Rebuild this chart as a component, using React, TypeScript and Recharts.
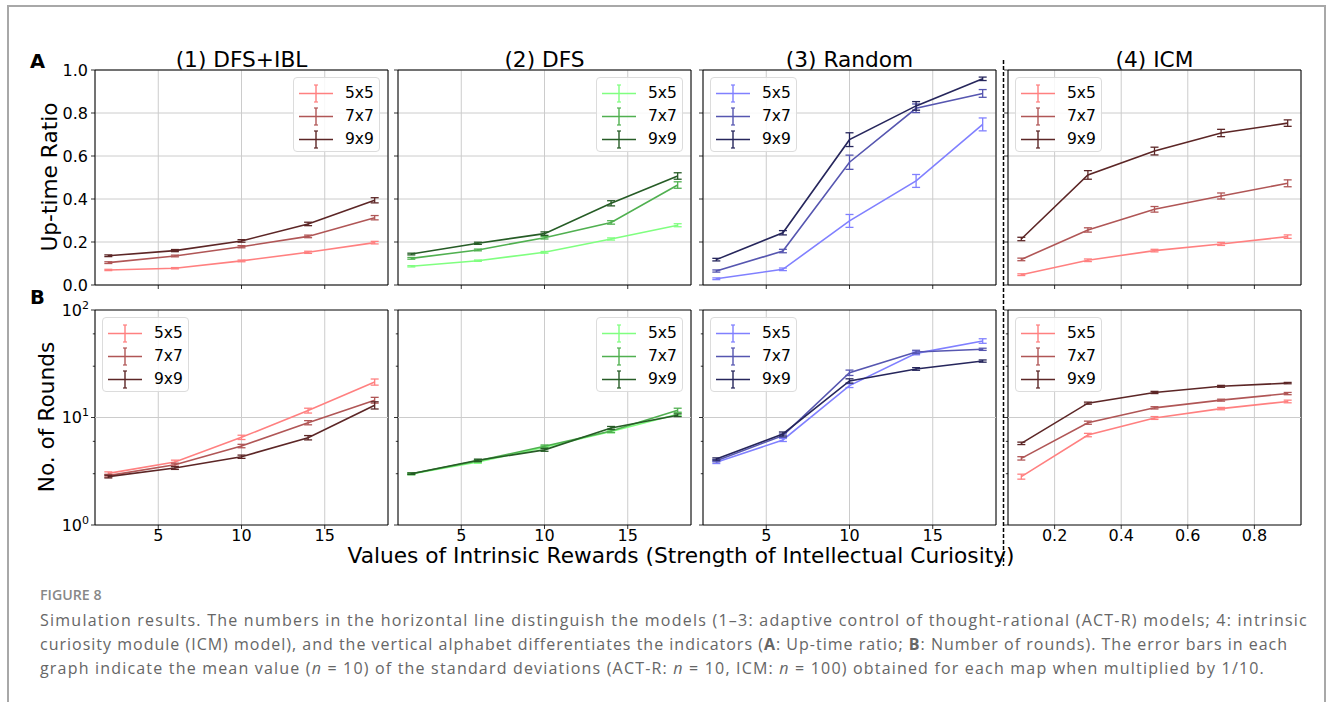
import React, { useLayoutEffect, useRef, useState } from "react";
import { CartesianGrid, ErrorBar, Line, LineChart, ReferenceArea, ReferenceLine, XAxis, YAxis } from "recharts";

// x values
const rewardX = [2, 6, 10, 14, 18];
const icmX = [0.1, 0.3, 0.5, 0.7, 0.9];
const mapSizes = ["5x5", "7x7", "9x9"];

// up-time ratio, one row per map size (5x5, 7x7, 9x9)
const uptimeDfsIbl = [
  [0.07, 0.078, 0.112, 0.152, 0.197],
  [0.104, 0.135, 0.178, 0.226, 0.313],
  [0.136, 0.16, 0.205, 0.284, 0.394],
];
const uptimeDfsIblErr = [
  [0.003, 0.003, 0.004, 0.005, 0.006],
  [0.004, 0.004, 0.005, 0.006, 0.01],
  [0.004, 0.005, 0.006, 0.008, 0.012],
];
const uptimeDfs = [
  [0.087, 0.113, 0.152, 0.214, 0.278],
  [0.124, 0.163, 0.22, 0.291, 0.465],
  [0.144, 0.194, 0.239, 0.38, 0.507],
];
const uptimeDfsErr = [
  [0.003, 0.003, 0.004, 0.005, 0.007],
  [0.004, 0.004, 0.006, 0.008, 0.015],
  [0.004, 0.005, 0.008, 0.012, 0.015],
];
const uptimeRandom = [
  [0.029, 0.073, 0.298, 0.484, 0.747],
  [0.065, 0.158, 0.571, 0.822, 0.891],
  [0.118, 0.243, 0.676, 0.833, 0.959],
];
const uptimeRandomErr = [
  [0.004, 0.006, 0.03, 0.03, 0.03],
  [0.005, 0.008, 0.033, 0.02, 0.018],
  [0.006, 0.01, 0.032, 0.02, 0.008],
];
const uptimeIcm = [
  [0.048, 0.115, 0.16, 0.191, 0.225],
  [0.119, 0.256, 0.352, 0.414, 0.473],
  [0.214, 0.512, 0.623, 0.707, 0.753],
];
const uptimeIcmErr = [
  [0.004, 0.006, 0.006, 0.007, 0.008],
  [0.006, 0.01, 0.013, 0.014, 0.016],
  [0.008, 0.02, 0.018, 0.017, 0.015],
];

// number of rounds (log scale)
const roundsDfsIbl = [
  [3.02, 3.86, 6.54, 11.6, 21.4],
  [2.88, 3.64, 5.43, 8.95, 14.5],
  [2.82, 3.39, 4.32, 6.49, 13.0],
];
const roundsDfsIblErr = [
  [0.1, 0.15, 0.3, 0.6, 1.4],
  [0.08, 0.12, 0.2, 0.4, 0.9],
  [0.08, 0.1, 0.15, 0.3, 1.0],
];
const roundsDfs = [
  [2.98, 3.85, 5.3, 7.4, 10.7],
  [3.0, 3.95, 5.4, 7.5, 11.7],
  [3.0, 4.0, 5.0, 8.0, 10.5],
];
const roundsDfsErr = [
  [0.05, 0.1, 0.15, 0.2, 0.3],
  [0.05, 0.1, 0.15, 0.25, 0.5],
  [0.05, 0.1, 0.15, 0.25, 0.3],
];
const roundsRandom = [
  [3.83, 6.18, 19.8, 39.5, 51.5],
  [3.97, 6.78, 26.1, 40.7, 43.1],
  [4.11, 7.03, 21.9, 28.3, 33.5],
];
const roundsRandomErr = [
  [0.1, 0.2, 0.8, 1.2, 2.5],
  [0.1, 0.25, 1.5, 1.5, 1.0],
  [0.1, 0.3, 1.0, 0.8, 0.8],
];
const roundsIcm = [
  [2.82, 6.87, 9.9, 12.1, 14.1],
  [4.17, 8.95, 12.3, 14.5, 16.7],
  [5.75, 13.6, 17.1, 19.5, 20.9],
];
const roundsIcmErr = [
  [0.15, 0.25, 0.3, 0.3, 0.4],
  [0.15, 0.3, 0.3, 0.3, 0.4],
  [0.15, 0.3, 0.4, 0.4, 0.3],
];

const upTicks = [0, 0.2, 0.4, 0.6, 0.8, 1.0];
const logTicks = [1, 2, 3, 4, 5, 6, 7, 8, 9, 10, 20, 30, 40, 50, 60, 70, 80, 90, 100];
const rewardTicks = [5, 10, 15];
const icmTicks = [0.2, 0.4, 0.6, 0.8];

const reds = ["#ff8080", "#b05656", "#5c2626"];
const greens = ["#80ff80", "#50b050", "#265c26"];
const blues = ["#8080ff", "#5656b0", "#26265c"];

const FONT = "'DejaVu Sans', sans-serif";
const LABEL_SIZE = 21.7;
const PLOT_LEFT = [95, 398, 703, 1008];
const ROW_TOP = [70, 310];
const PLOT_W = 293;
const PLOT_H = 215;

type PanelDef = {
  title: string;
  x: number[];
  xTicks: number[];
  up: number[][];
  upErr: number[][];
  rounds: number[][];
  roundsErr: number[][];
  colors: string[];
  legendTop: "left" | "right";
  legendBottom: "left" | "right";
};

const panels: PanelDef[] = [
  { title: "(1) DFS+IBL", x: rewardX, xTicks: rewardTicks, up: uptimeDfsIbl, upErr: uptimeDfsIblErr, rounds: roundsDfsIbl, roundsErr: roundsDfsIblErr, colors: reds, legendTop: "right", legendBottom: "left" },
  { title: "(2) DFS", x: rewardX, xTicks: rewardTicks, up: uptimeDfs, upErr: uptimeDfsErr, rounds: roundsDfs, roundsErr: roundsDfsErr, colors: greens, legendTop: "right", legendBottom: "right" },
  { title: "(3) Random", x: rewardX, xTicks: rewardTicks, up: uptimeRandom, upErr: uptimeRandomErr, rounds: roundsRandom, roundsErr: roundsRandomErr, colors: blues, legendTop: "left", legendBottom: "left" },
  { title: "(4) ICM", x: icmX, xTicks: icmTicks, up: uptimeIcm, upErr: uptimeIcmErr, rounds: roundsIcm, roundsErr: roundsIcmErr, colors: reds, legendTop: "left", legendBottom: "left" },
];

function buildRows(x: number[], values: number[][], errs: number[][]) {
  return x.map((xv, i) => {
    const row: Record<string, number> = { x: xv };
    values.forEach((series, s) => {
      row["v" + s] = series[i];
      row["e" + s] = errs[s][i];
    });
    return row;
  });
}

function xDomain(x: number[]): [number, number] {
  const pad = (x[x.length - 1] - x[0]) * 0.05;
  return [x[0] - pad, x[x.length - 1] + pad];
}

function LogTick(props: any) {
  const { x, y, payload, showLabel } = props;
  const exp = Math.log10(payload.value);
  const major = Math.abs(exp - Math.round(exp)) < 1e-6;
  const len = major ? 4 : 2.2;
  return (
    <g>
      <line x1={x - len} x2={x} y1={y} y2={y} stroke="#000" strokeWidth={0.8} />
      {major && showLabel && (
        <text x={x - 6} y={y} dy="0.36em" textAnchor="end" fontSize={16} fontFamily={FONT} fill="#000">
          10
          <tspan dy={-7} fontSize={11}>
            {Math.round(exp)}
          </tspan>
        </text>
      )}
    </g>
  );
}

function LegendBox({ colors, side, plotLeft, plotTop }: { colors: string[]; side: "left" | "right"; plotLeft: number; plotTop: number }) {
  const w = 87;
  const left = side === "left" ? plotLeft + 7 : plotLeft + PLOT_W - 8 - w;
  return (
    <div
      style={{
        position: "absolute",
        left,
        top: plotTop + 7,
        width: w,
        height: 75,
        boxSizing: "border-box",
        border: "1px solid #dcdcdc",
        borderRadius: 4,
        background: "rgba(255,255,255,0.85)",
      }}
    >
      {mapSizes.map((label, i) => (
        <div key={label} style={{ position: "absolute", left: 0, top: 4 + i * 23, height: 23, width: w }}>
          <svg width={40} height={23} style={{ position: "absolute", left: 3, top: 0 }}>
            <line x1={2} x2={36} y1={11.5} y2={11.5} stroke={colors[i]} strokeWidth={1.6} />
            <line x1={19} x2={19} y1={3} y2={20} stroke={colors[i]} strokeWidth={1.4} />
            <line x1={17} x2={21} y1={3} y2={3} stroke={colors[i]} strokeWidth={1.2} />
            <line x1={17} x2={21} y1={20} y2={20} stroke={colors[i]} strokeWidth={1.2} />
          </svg>
          <span style={{ position: "absolute", left: 51, top: 2, fontFamily: FONT, fontSize: 15.5, lineHeight: "19px", color: "#000" }}>
            {label}
          </span>
        </div>
      ))}
    </div>
  );
}

function Panel({ def, index, row }: { def: PanelDef; index: number; row: 0 | 1 }) {
  const isLog = row === 1;
  const data = isLog ? buildRows(def.x, def.rounds, def.roundsErr) : buildRows(def.x, def.up, def.upErr);
  const dom = xDomain(def.x);
  const yDom: [number, number] = isLog ? [1, 100] : [0, 1];
  const showY = index === 0;
  const plotLeft = PLOT_LEFT[index];
  const plotTop = ROW_TOP[row];
  const axisTick = { fill: "#000", fontSize: 16, fontFamily: FONT };
  return (
    <>
      <div style={{ position: "absolute", left: plotLeft - 50, top: plotTop - 10 }}>
        <LineChart width={PLOT_W + 60} height={PLOT_H + 40} data={data} margin={{ top: 10, right: 10, left: 0, bottom: 0 }}>
          <CartesianGrid stroke="#cccccc" strokeWidth={1} horizontal={!isLog} />
          {isLog && <ReferenceLine y={10} stroke="#cccccc" strokeWidth={1} />}
          <XAxis
            dataKey="x"
            type="number"
            domain={dom}
            ticks={def.xTicks}
            allowDataOverflow
            height={30}
            tickSize={4}
            tickMargin={1}
            axisLine={false}
            tickLine={{ stroke: "#000", strokeWidth: 0.8 }}
            tick={axisTick}
            tickFormatter={(v: number) => (isLog ? String(v) : "")}
          />
          {isLog ? (
            <YAxis
              type="number"
              scale="log"
              domain={yDom}
              ticks={logTicks}
              allowDataOverflow
              width={50}
              tickSize={0}
              tickMargin={0}
              axisLine={false}
              tickLine={false}
              tick={<LogTick showLabel={showY} />}
            />
          ) : (
            <YAxis
              type="number"
              domain={yDom}
              ticks={upTicks}
              allowDataOverflow
              width={50}
              tickSize={4}
              tickMargin={3}
              axisLine={false}
              tickLine={{ stroke: "#000", strokeWidth: 0.8 }}
              tick={axisTick}
              tickFormatter={(v: number) => (showY ? v.toFixed(1) : "")}
            />
          )}
          {def.colors.map((c, s) => (
            <Line
              key={s}
              type="linear"
              dataKey={"v" + s}
              stroke={c}
              strokeWidth={1.6}
              dot={false}
              activeDot={false}
              isAnimationActive={false}
            >
              <ErrorBar dataKey={"e" + s} width={4} stroke={c} strokeWidth={1.3} direction="y" />
            </Line>
          ))}
          <ReferenceArea x1={dom[0]} x2={dom[1]} y1={yDom[0]} y2={yDom[1]} fill="none" stroke="#000" strokeWidth={1} ifOverflow="visible" />
        </LineChart>
      </div>
      <LegendBox colors={def.colors} side={row === 0 ? def.legendTop : def.legendBottom} plotLeft={plotLeft} plotTop={plotTop} />
    </>
  );
}

const captionStyle: React.CSSProperties = {
  position: "absolute",
  left: 40,
  display: "inline-block",
  fontFamily: "'Open Sans', sans-serif",
  fontSize: 16,
  color: "#666",
  whiteSpace: "nowrap",
  lineHeight: "24px",
};

// stretches a caption line to the width it has in the figure
function FitLine({ target, top, children }: { target: number; top: number; children: React.ReactNode }) {
  const ref = useRef<HTMLSpanElement>(null);
  const [ls, setLs] = useState(0);
  useLayoutEffect(() => {
    const el = ref.current;
    if (!el) return;
    el.style.letterSpacing = "0px";
    const w = el.getBoundingClientRect().width;
    const n = (el.textContent || "").length;
    setLs((target - w) / Math.max(1, n));
  }, [target]);
  return (
    <span ref={ref} style={{ ...captionStyle, top, letterSpacing: ls }}>
      {children}
    </span>
  );
}

const yLabelStyle: React.CSSProperties = {
  position: "absolute",
  width: 200,
  textAlign: "center",
  transform: "rotate(-90deg)",
  fontFamily: FONT,
  fontSize: LABEL_SIZE,
  lineHeight: "24px",
  color: "#000",
};

export default function App() {
  return (
    <div style={{ position: "fixed", left: 0, top: 0, width: 1330, height: 702, background: "#fff", overflow: "hidden" }}>
      <div style={{ position: "absolute", left: 7, top: 5, width: 1319, height: 720, border: "2px solid #a8a8a8", boxSizing: "border-box" }} />

      {panels.map((p, i) => (
        <div
          key={"t" + i}
          style={{
            position: "absolute",
            left: PLOT_LEFT[i],
            width: PLOT_W,
            top: 47,
            textAlign: "center",
            fontFamily: FONT,
            fontSize: LABEL_SIZE,
            lineHeight: "26px",
            color: "#000",
          }}
        >
          {p.title}
        </div>
      ))}

      <div style={{ position: "absolute", left: 30, top: 50, fontFamily: FONT, fontWeight: "bold", fontSize: 19.5, lineHeight: "24px" }}>A</div>
      <div style={{ position: "absolute", left: 30, top: 286, fontFamily: FONT, fontWeight: "bold", fontSize: 19.5, lineHeight: "24px" }}>B</div>

      <div style={{ ...yLabelStyle, left: 49.5 - 100, top: 177 - 12 }}>Up-time Ratio</div>
      <div style={{ ...yLabelStyle, left: 47 - 100, top: 417 - 12 }}>No. of Rounds</div>

      {panels.map((p, i) => (
        <Panel key={"a" + i} def={p} index={i} row={0} />
      ))}
      {panels.map((p, i) => (
        <Panel key={"b" + i} def={p} index={i} row={1} />
      ))}

      <svg style={{ position: "absolute", left: 0, top: 0 }} width={1330} height={702} pointerEvents="none">
        <line x1={1003.5} x2={1003.5} y1={60} y2={566} stroke="#000" strokeWidth={1.5} strokeDasharray="4 2" />
      </svg>

      <div
        style={{
          position: "absolute",
          left: 231,
          width: 900,
          top: 547,
          textAlign: "center",
          fontFamily: FONT,
          fontSize: LABEL_SIZE,
          lineHeight: "18px",
          whiteSpace: "nowrap",
        }}
      >
        Values of Intrinsic Rewards (Strength of Intellectual Curiosity)
      </div>

      <div style={{ position: "absolute", left: 40, top: 585, fontFamily: "'Open Sans', sans-serif", fontSize: 14.2, fontWeight: 600, color: "#888", lineHeight: "20px" }}>
        FIGURE 8
      </div>
      <FitLine target={1268} top={608}>
        Simulation results. The numbers in the horizontal line distinguish the models (1–3: adaptive control of thought-rational (ACT-R) models; 4: intrinsic
      </FitLine>
      <FitLine target={1248} top={632}>
        curiosity module (ICM) model), and the vertical alphabet differentiates the indicators (<b>A</b>: Up-time ratio; <b>B</b>: Number of rounds). The error bars in each
      </FitLine>
      <FitLine target={1225} top={656}>
        graph indicate the mean value (<i>n</i> = 10) of the standard deviations (ACT-R: <i>n</i> = 10, ICM: <i>n</i> = 100) obtained for each map when multiplied by 1/10.
      </FitLine>
    </div>
  );
}
